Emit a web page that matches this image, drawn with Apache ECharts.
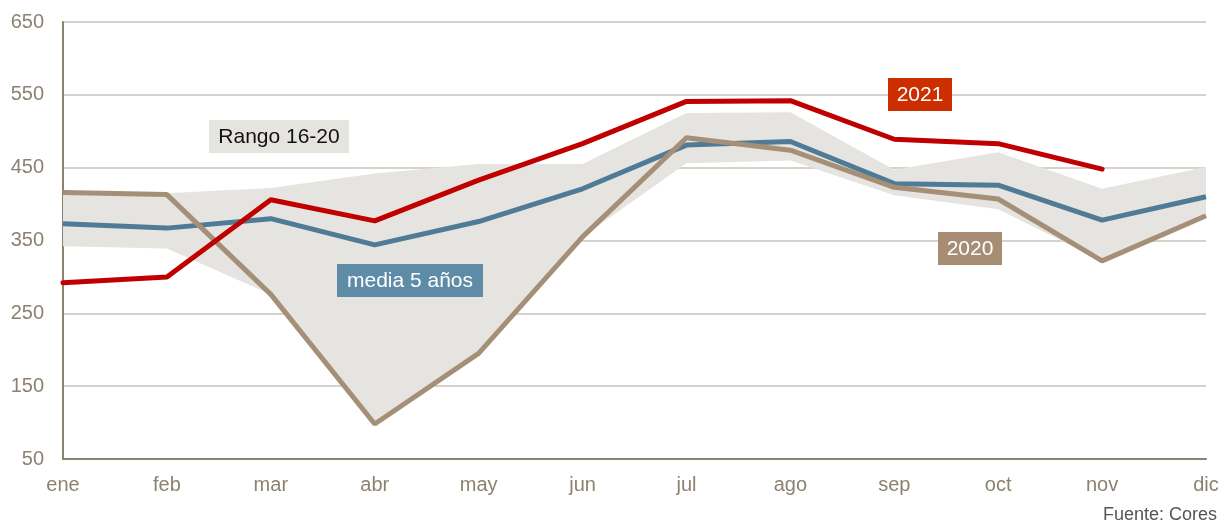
<!DOCTYPE html>
<html><head><meta charset="utf-8">
<script src="https://cdn.jsdelivr.net/npm/echarts@6/dist/echarts.min.js"></script>
<style>html,body{margin:0;padding:0;background:#fff}#c{width:1224px;height:521px}</style>
</head><body><div id="c"></div>
<script>
const months = ['ene','feb','mar','abr','may','jun','jul','ago','sep','oct','nov','dic'];
const yTicks = [50,150,250,350,450,550,650];
const rangeLow  = [342,339,276,98,195,355,456,460,412,393,322,383];
const rangeHigh = [416,415,422,442,455,455,525,526,447,471,421,451];
const media5    = [373,367,380,344,376,421,481,486,428,426,378,410];
const y2020     = [416,413,276,98,195,355,491,474,423,407,322,384];
const y2021     = [292,300,406,377,433,483,541,542,489,483,448,null];

const bandDiff = rangeHigh.map((h,i)=>h-rangeLow[i]);
const font = '"Liberation Sans", Arial, sans-serif';
const axisCol = '#8c8270';

function tag(x, y, w, h, text, bg, fg) {
  return [
    {type:'rect',shape:{x:x,y:y,width:w,height:h},style:{fill:bg},z:10},
    {type:'text',style:{x:x+w/2,y:y+h/2+1,text:text,fill:fg,font:'21px '+font,align:'center',verticalAlign:'middle'},z:11}
  ];
}

const chart = echarts.init(document.getElementById('c'));
chart.setOption({
  animation:false,
  grid:{left:63,right:18,top:22,bottom:62},
  xAxis:{type:'category',data:months,boundaryGap:false,
    axisLine:{lineStyle:{color:axisCol,width:2}},axisTick:{show:false},
    axisLabel:{color:axisCol,fontSize:20,fontFamily:font,margin:16}},
  yAxis:{type:'value',min:yTicks[0],max:yTicks[yTicks.length-1],interval:100,
    axisLine:{show:true,lineStyle:{color:axisCol,width:2}},axisTick:{show:false},
    splitLine:{lineStyle:{color:'#cbc5b9',width:1.5}},
    axisLabel:{color:axisCol,fontSize:20,fontFamily:font,margin:19}},
  series:[
    {type:'line',data:rangeLow,stack:'band',symbol:'none',lineStyle:{opacity:0},silent:true,z:1},
    {type:'line',data:bandDiff,stack:'band',symbol:'none',lineStyle:{opacity:0},areaStyle:{color:'#e6e4e0',opacity:1},silent:true,z:1},
    {type:'line',data:media5,symbol:'none',lineStyle:{color:'#4f7b97',width:5},z:3},
    {type:'line',data:y2020,symbol:'none',lineStyle:{color:'#a68f77',width:5},z:4},
    {type:'line',data:y2021,symbol:'none',lineStyle:{color:'#c00000',width:5,cap:'round'},z:5}
  ],
  graphic:[].concat(
    tag(209,120,140,33,'Rango 16-20','#e6e4e0','#111'),
    tag(337,264,146,33,'media 5 años','#5e8ca7','#fff'),
    tag(888,78,64,33,'2021','#cc2e00','#fff'),
    tag(938,232,64,33,'2020','#a68d74','#fff'),
    [{type:'text',style:{x:1217,y:506,text:'Fuente: Cores',fill:'#555',font:'18px '+font,align:'right',verticalAlign:'top'},z:11}]
  )
});
</script></body></html>
